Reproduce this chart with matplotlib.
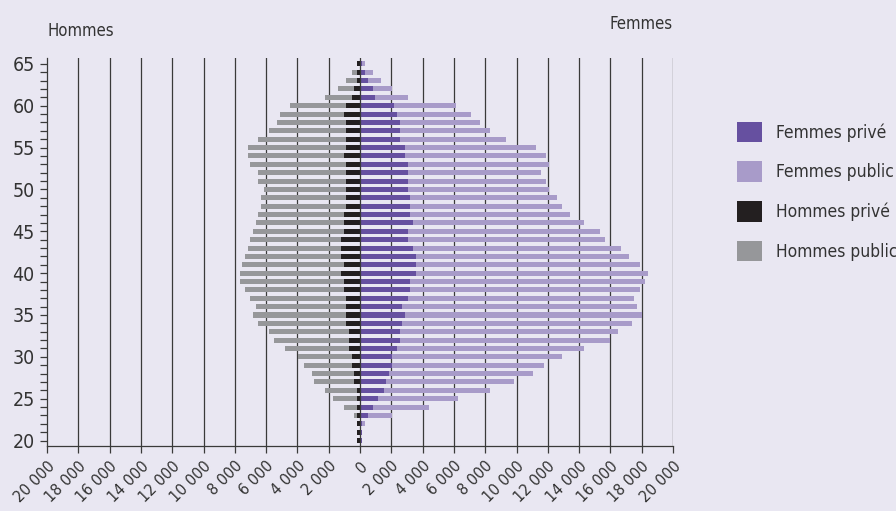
import matplotlib
matplotlib.use("Agg")
import matplotlib.pyplot as plt
import numpy as np
from matplotlib.patches import Patch
from matplotlib.ticker import MultipleLocator

plt.rcParams['font.family'] = ['DejaVu Sans']
plt.rcParams['font.stretch'] = 'condensed'

ages = list(range(65, 19, -1))  # 65 .. 20

femmes_prive = [100, 320, 490, 830, 980, 2190, 2360, 2530, 2530, 2530, 2875, 2875, 3045, 3045, 3045,
                3045, 3210, 3210, 3210, 3390, 3045, 3045, 3390, 3560, 3560, 3560, 3210, 3210, 3045, 2700,
                2875, 2700, 2530, 2530, 2360, 2020, 2020, 1850, 1680, 1510, 1170, 830, 490, 150, 110, 110]
femmes_total = [320, 810, 1340, 2020, 3050, 6110, 7110, 7650, 8330, 9350, 11220, 11900, 12080, 11570, 11900,
                12080, 12590, 12930, 13440, 14290, 15310, 15650, 16680, 17190, 17870, 18380, 18210, 17870, 17530, 17700,
                18040, 17360, 16500, 15950, 14290, 12930, 11740, 11060, 9860, 8330, 6280, 4410, 2020, 320, 110, 110]
hommes_prive = [190, 190, 190, 380, 530, 890, 1040, 890, 890, 890, 890, 1040, 890, 890, 890,
                890, 890, 890, 1040, 1040, 1040, 1210, 1210, 1210, 1040, 1210, 1040, 1040, 890, 890,
                890, 890, 700, 700, 700, 530, 530, 380, 380, 190, 190, 190, 190, 190, 190, 190]
hommes_total = [190, 530, 890, 1380, 2240, 4450, 5130, 5300, 5810, 6500, 7180, 7180, 7010, 6500, 6500,
                6160, 6330, 6330, 6500, 6670, 6840, 7010, 7180, 7350, 7520, 7690, 7690, 7350, 7010, 6670,
                6840, 6500, 5810, 5470, 4790, 3940, 3600, 3090, 2920, 2240, 1730, 1040, 380, 190, 190, 190]

femmes_public = [t - p for t, p in zip(femmes_total, femmes_prive)]
hommes_public = [t - p for t, p in zip(hommes_total, hommes_prive)]

xticks = list(range(-20000, 20001, 2000))
xticklabels = [f"{abs(v):,}".replace(",", " ") for v in xticks]
legend_labels = ["Femmes privé", "Femmes public", "Hommes privé", "Hommes public"]

c_fp = '#6650A0'
c_fpub = '#A89BC9'
c_hp = '#231F20'
c_hpub = '#96979A'
bg = '#E9E7F2'
txt = '#333333'

fig = plt.figure(figsize=(8.96, 5.11), dpi=100, facecolor=bg)
ax = fig.add_axes([47 / 896, 1 - 446 / 511, (673 - 47) / 896, (446 - 58) / 511])
ax.set_facecolor(bg)

h = 0.6
y = np.array(ages)
hp = -np.array(hommes_prive)
hpub = -np.array(hommes_public)
ax.barh(y, hp, height=h, color=c_hp, zorder=2, linewidth=0)
ax.barh(y, hpub, left=hp, height=h, color=c_hpub, zorder=2, linewidth=0)
ax.barh(y, femmes_prive, height=h, color=c_fp, zorder=2, linewidth=0)
ax.barh(y, femmes_public, left=femmes_prive, height=h, color=c_fpub, zorder=2, linewidth=0)

ax.set_xlim(-20000, 20000)
ax.set_ylim(19.35, 65.7)

for v in xticks[1:]:
    ax.axvline(v, color='#3a3a3a', lw=0.9, zorder=1 if v != 0 else 3)

ax.set_xticks(xticks)
ax.set_xticklabels(xticklabels, rotation=45, ha='right', rotation_mode='anchor',
                   fontsize=11.5, color=txt)
ax.set_yticks(range(20, 66, 5))
ax.set_yticklabels([str(v) for v in range(20, 66, 5)], fontsize=14, color=txt)
ax.yaxis.set_minor_locator(MultipleLocator(1))
ax.tick_params(axis='y', which='both', length=5, width=0.9, color='#3a3a3a', direction='out', pad=4)
ax.tick_params(axis='x', length=5, width=0.9, color='#3a3a3a', direction='out', pad=4)

for s in ['top', 'right']:
    ax.spines[s].set_visible(False)
for s in ['left', 'bottom']:
    ax.spines[s].set_color('#3a3a3a')
    ax.spines[s].set_linewidth(0.9)

fig.text(47 / 896, 1 - 31 / 511, "Hommes", fontsize=12, color=txt, va='center', ha='left')
fig.text(673 / 896, 1 - 24 / 511, "Femmes", fontsize=12, color=txt, va='center', ha='right')

handles = [Patch(facecolor=c, edgecolor='none') for c in [c_fp, c_fpub, c_hp, c_hpub]]
leg = fig.legend(handles, legend_labels, loc='upper left', bbox_to_anchor=(721 / 896, 1 - 106 / 511),
                 frameon=False, fontsize=12.5, handlelength=1.45, handleheight=1.45,
                 labelspacing=1.1, handletextpad=0.8, labelcolor=txt)

fig.savefig('out.png', dpi=100, facecolor=bg)
